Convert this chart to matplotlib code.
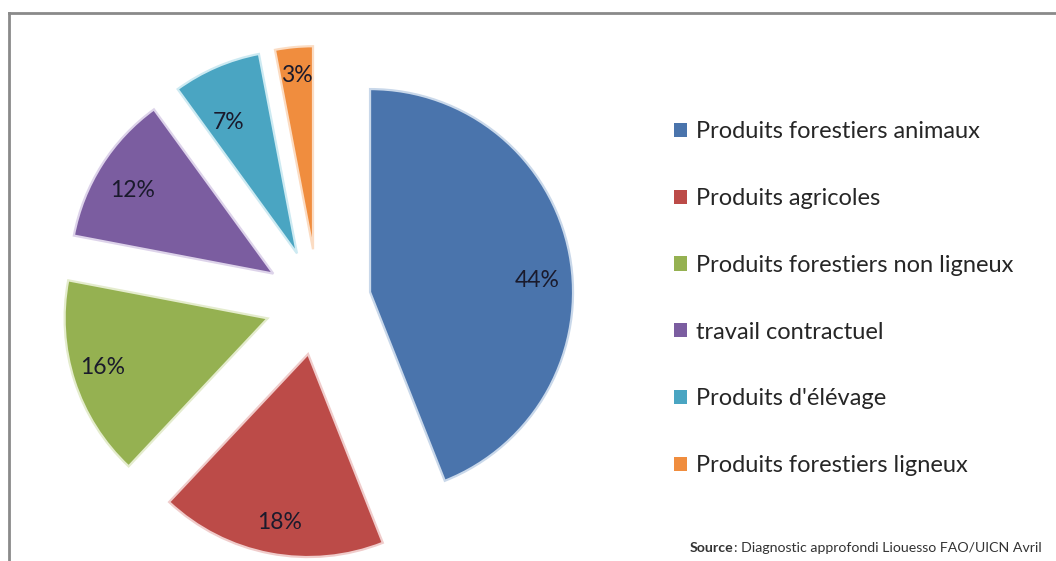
import numpy as np
import matplotlib.pyplot as plt

# Revenue shares by activity
categories = [
    "Produits forestiers animaux",
    "Produits agricoles",
    "Produits forestiers non ligneux",
    "travail contractuel",
    "Produits d'élévage",
    "Produits forestiers ligneux",
]
shares = [44, 18, 16, 12, 7, 3]
source_bold = "Source"
source_rest = ": Diagnostic approfondi Liouesso FAO/UICN Avril"

colors = ["#4a74ac", "#bc4b48", "#95b151", "#7b5da0", "#4aa5c2", "#f08d3e"]
edges = ["#c9d8ea", "#f0cccb", "#e4eccd", "#ddd3ea", "#cdeaf2", "#fbdcc3"]
explode = [0.261] * len(shares)
# percent label placement: fraction of radius, and turn (deg, clockwise) off the bisector
label_dist = [0.825, 0.84, 0.85, 0.805, 0.73, 0.86]
label_turn = [6.7, -1.3, 1.3, -1.7, -4.3, 0.0]

plt.rcParams['font.family'] = ['Lato', 'DejaVu Sans']

W, H = 1056, 561
fig = plt.figure(figsize=(W / 100, H / 100), dpi=100)
fig.patch.set_facecolor("white")
ax = fig.add_axes([0, 0, 1, 1])

wedges, _, autotexts = ax.pie(
    shares, colors=colors, explode=explode, startangle=90, counterclock=False,
    autopct="%.0f%%", radius=1.0,
    wedgeprops=dict(linewidth=1.6),
    textprops=dict(fontsize=16.5, color="#1a1a2c"),
)
for w, ec in zip(wedges, edges):
    w.set_edgecolor(ec)

# move percent labels relative to each slice centre
for w, t, d, turn in zip(wedges, autotexts, label_dist, label_turn):
    ang = np.deg2rad(0.5 * (w.theta1 + w.theta2) - turn)
    cx, cy = w.center
    t.set_position((cx + d * np.cos(ang), cy + d * np.sin(ang)))

# pixel-based limits: pie centre at (318, 302) px, radius 203 px
cx_px, cy_px, r_px = 318, H - 302, 203
ax.set_xlim(-cx_px / r_px, (W - cx_px) / r_px)
ax.set_ylim(-cy_px / r_px, (H - cy_px) / r_px)
ax.set_aspect("auto")
ax.axis("off")

# frame lines on the top and left
fig.add_artist(plt.Line2D([9 / W, 9 / W], [0, 1 - 13 / H], color="#8a8a8a", lw=2))
fig.add_artist(plt.Line2D([9 / W, 1], [1 - 13 / H, 1 - 13 / H], color="#8a8a8a", lw=2))

leg = fig.legend(
    wedges, categories, loc="upper left",
    bbox_to_anchor=(653 / W, 1 - 100 / H),
    frameon=False, fontsize=17, handlelength=0.55, handleheight=0.55,
    handletextpad=0.38, labelspacing=1.94, labelcolor="#262626",
)
for h, c in zip(leg.legend_handles, colors):
    h.set_edgecolor("none")
    h.set_facecolor(c)

src = fig.text(690 / W, (H - 548) / H, source_bold, fontsize=10.2,
               fontweight="bold", color="#333333", va="center")
ax.annotate(source_rest, xy=(1, 0.5), xycoords=src, va="center",
            fontsize=10.2, color="#333333")

fig.savefig("out.png", dpi=100)
